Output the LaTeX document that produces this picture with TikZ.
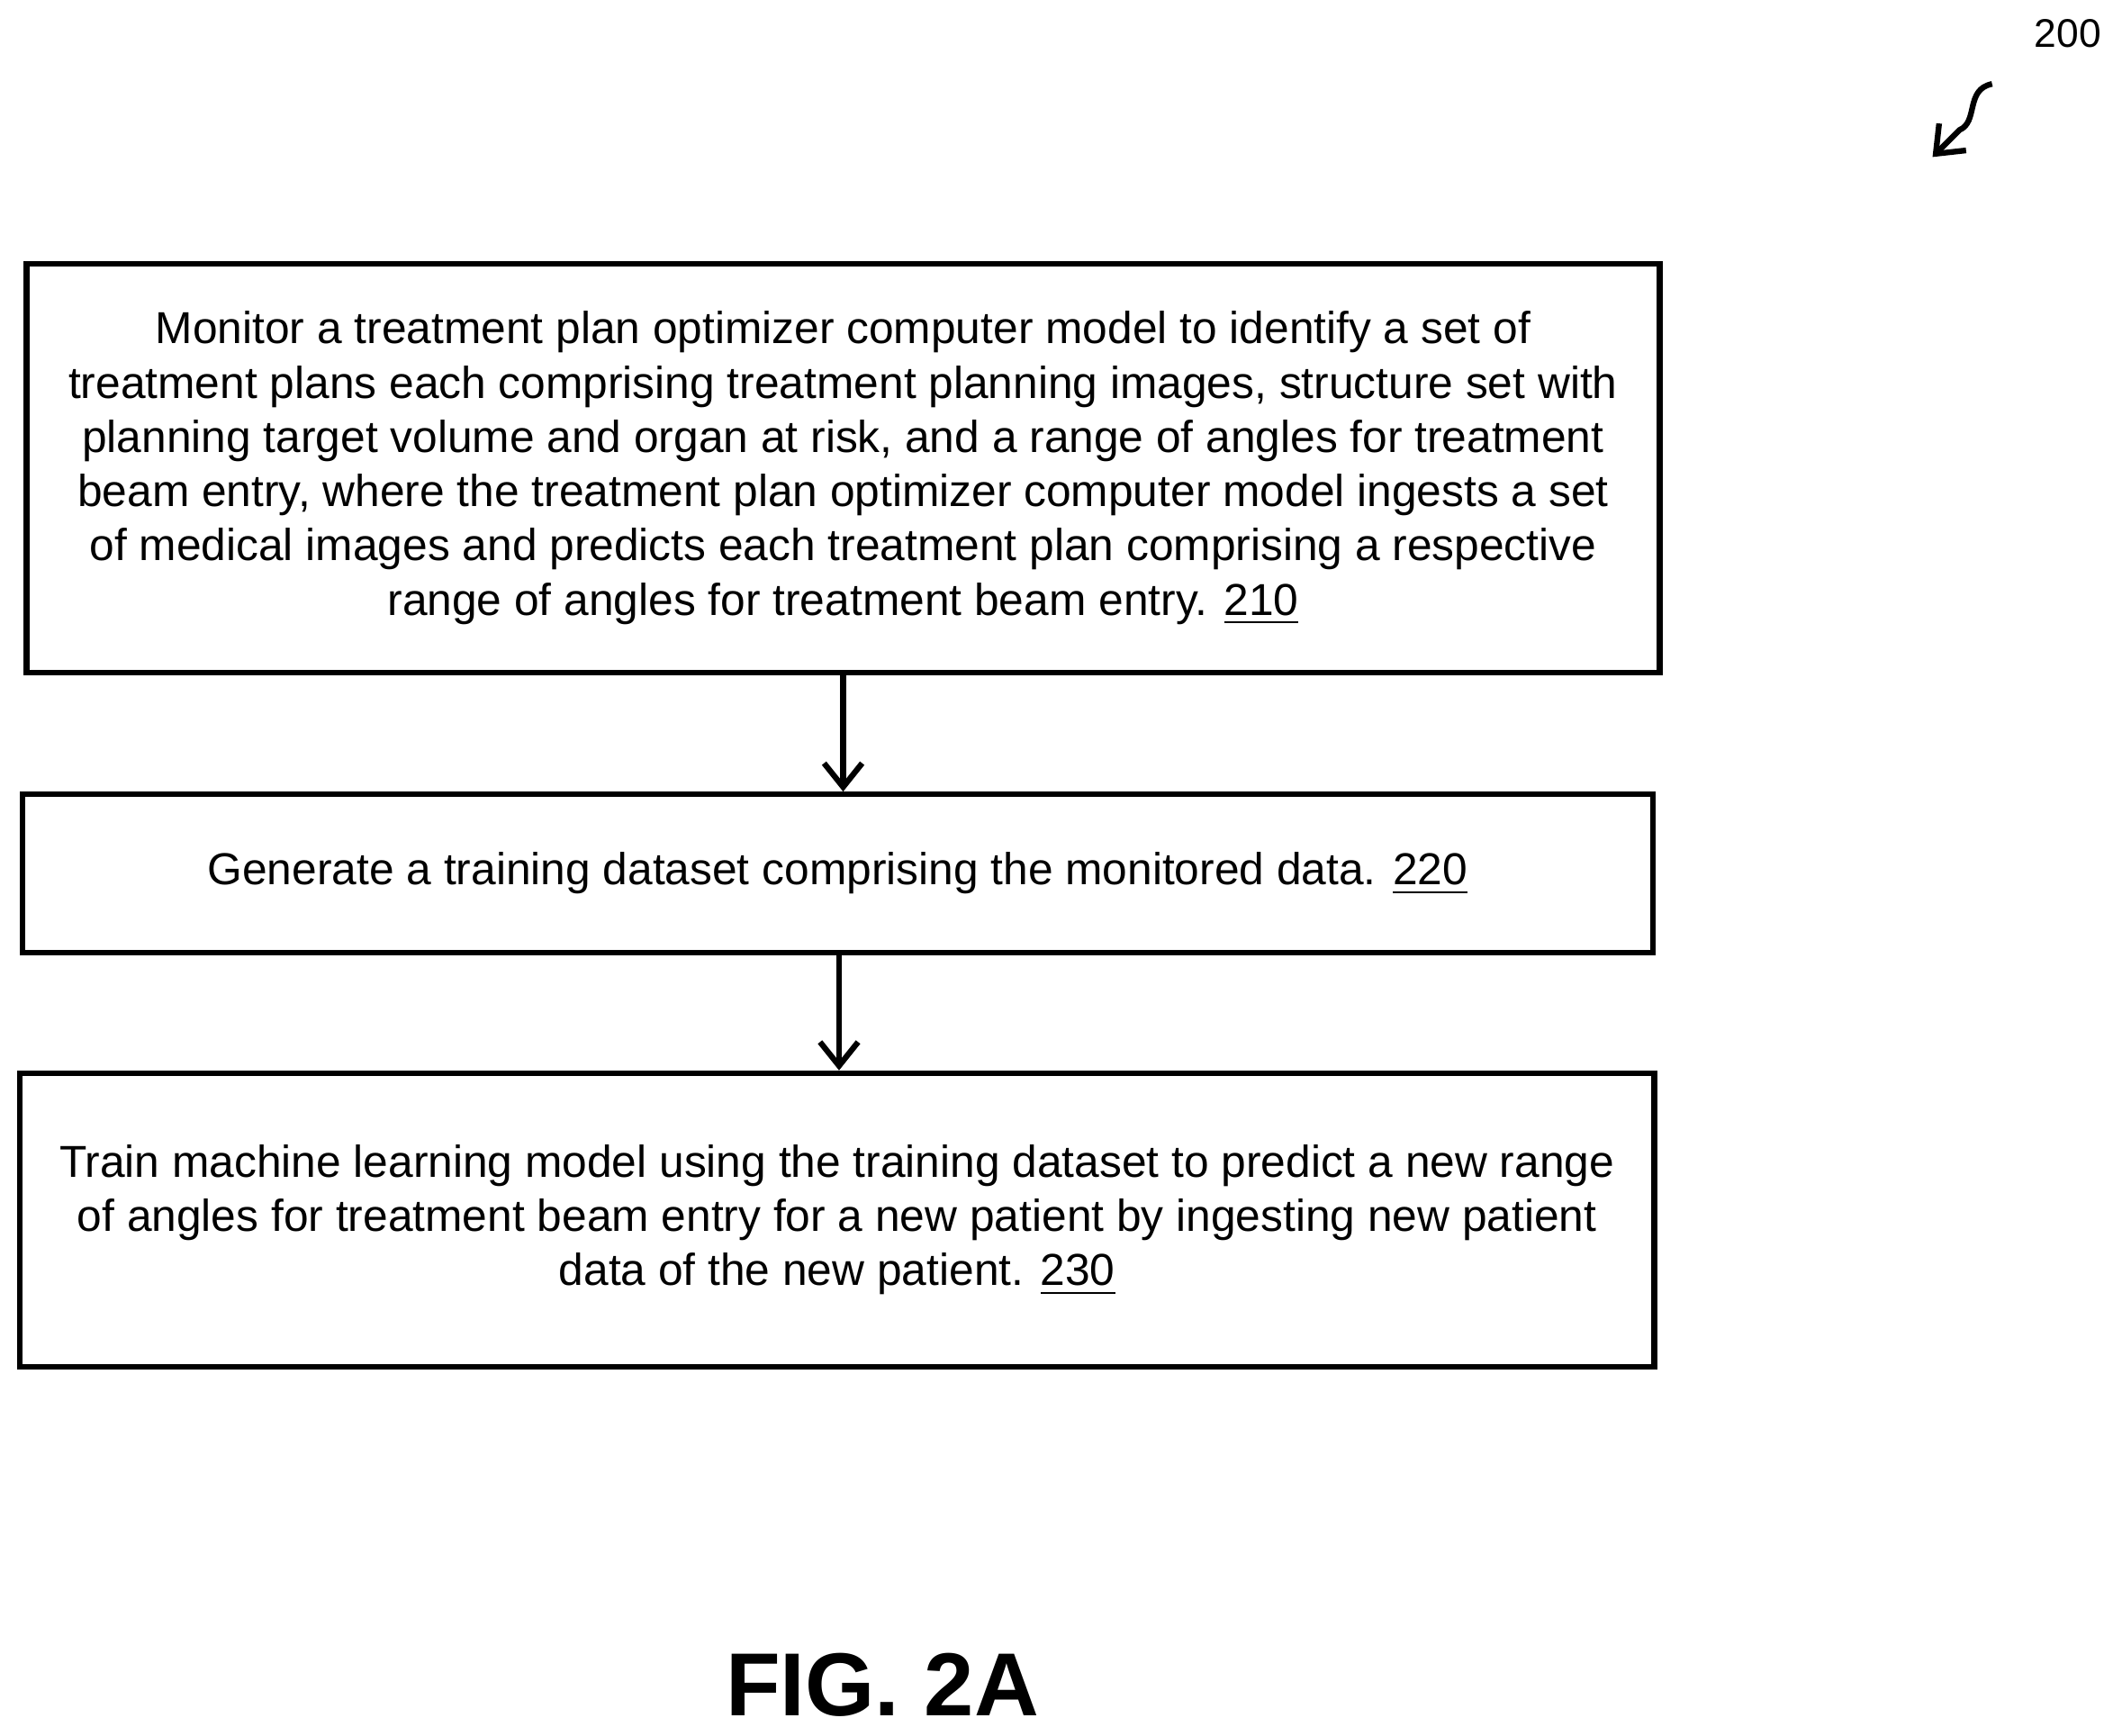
\documentclass[tikz,border=0pt]{standalone}
\usepackage{fontspec}
\setmainfont{Liberation Sans}
\usetikzlibrary{arrows.meta}
\tikzset{
  stepbox/.style={draw, line width=1.2pt, align=center, font=\fontsize{9.4}{11.4}\selectfont},
  flow/.style={line width=1.2pt, -{Straight Barb[length=5pt,width=8pt]}}
}
\begin{document}
\begin{tikzpicture}[x=0.01cm, y=-0.01cm]
  \useasboundingbox (0,0) rectangle (1568,1282);
  % steps
  \node[stepbox, minimum width=12.06cm, minimum height=3.02cm] (s210) at (623,346)
    {Monitor a treatment plan optimizer computer model to identify a set of\\
     treatment plans each comprising treatment planning images, structure set with\\
     planning target volume and organ at risk, and a range of angles for treatment\\
     beam entry, where the treatment plan optimizer computer model ingests a set\\
     of medical images and predicts each treatment plan comprising a respective\\
     range of angles for treatment beam entry. \underline{210}};
  \node[stepbox, minimum width=12.04cm, minimum height=1.17cm] (s220) at (619,645.5)
    {Generate a training dataset comprising the monitored data. \underline{220}};
  \node[stepbox, minimum width=12.07cm, minimum height=2.17cm] (s230) at (618.5,901.5)
    {Train machine learning model using the training dataset to predict a new range\\
     of angles for treatment beam entry for a new patient by ingesting new patient\\
     data of the new patient. \underline{230}};
  \draw[flow] (s210.south -| 623,0) -- (s220.north -| 623,0);
  \draw[flow] (s220.south -| 620,0) -- (s230.north -| 620,0);
  % reference numeral
  \node[font=\fontsize{8.4}{10}\selectfont] (ref) at (1528,25) {200};
  \coordinate (tail) at (1472,62);
  \coordinate (tip) at (1428,116);
  \draw[flow] (tail) .. controls (1452,66) and (1462,90) .. (1448,96) -- (tip);
  \node[font=\bfseries\fontsize{18.8}{22}\selectfont] (fig) at (652,1245) {FIG. 2A};
\end{tikzpicture}
\end{document}
